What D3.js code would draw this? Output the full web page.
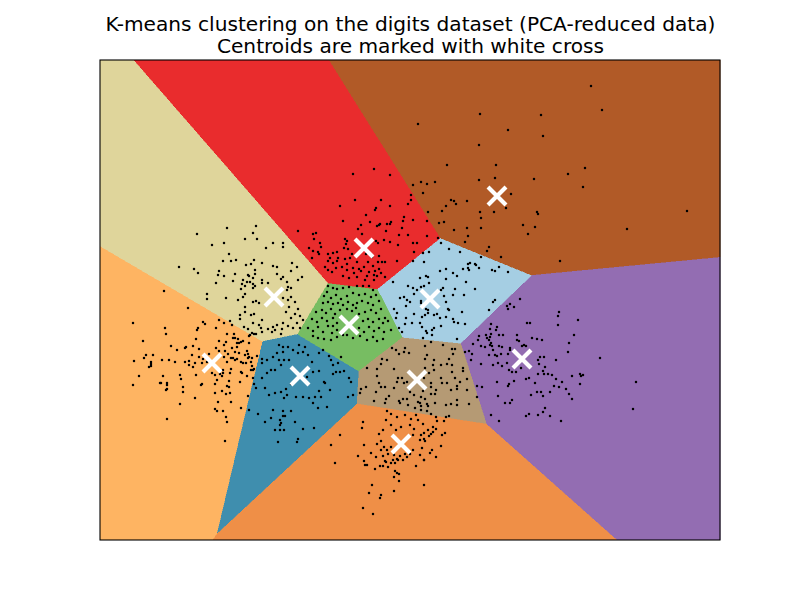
<!DOCTYPE html>
<html>
<head>
<meta charset="utf-8">
<script src="https://cdn.jsdelivr.net/npm/d3@7"></script>
<style>html,body{margin:0;padding:0;background:#fff}svg{display:block}text{font-family:"DejaVu Sans",sans-serif}</style>
</head>
<body>
<svg id="chart" width="800" height="600"></svg>
<script>
const titleLines = ["K-means clustering on the digits dataset (PCA-reduced data)", "Centroids are marked with white cross"];
const xDomain = [-31, 31];
const yDomain = [-24, 24];
const yMetric = 1.265;
const centroidX = [-19.8, -13.6, -11, -6.1, -4.6, 0.7, -0.9, 2, 8.7, 11.2];
const centroidY = [-6.3, 0.3, -7.6, -2.5, 5.2, -8, -14.4, 0.1, 10.4, -5.9];
const cellColors = ["#feb462", "#dfd59b", "#3f8eae", "#77bd62", "#e92c2d", "#b59a74", "#ef8f47", "#a5cee3", "#b15a27", "#936db2"];

const samplesYellow = [[-18.3,7.2],[-15.4,7.4],[-21.3,6.6],[-15.7,6.7],[-16.5,6.1],[-15.3,6.1],[-18.6,5.7],[-19.8,5.5],[-18.1,4.6],[-18.7,3.9],[-17.9,3.9],[-17.4,4],[-15.6,4],[-15.9,3.6],[-16.4,3.5],[-23.1,3.3],[-21.6,3.1],[-21.2,2.7],[-19.1,2.9],[-19.2,2.5],[-18.6,2.4],[-17.5,2.6],[-15.5,3],[-15.5,2.6],[-16.2,2.5],[-16.1,2.4],[-15.7,2.2],[-16.7,2],[-17.7,1.9],[-19.4,1.7],[-16.3,1.8],[-16,1.8],[-16.8,1.6],[-16.5,1.4],[-15.7,1.6],[-15.5,1.4],[-15.7,1.2],[-16.9,1.1],[-20.3,0.6],[-20.3,0.1],[-18.4,0.2],[-17.2,0],[-16.5,0.6],[-16.7,0.3],[-15.7,-0.2],[-15.4,-0.1],[-15.1,-0.3],[-16.5,-0.7],[-16.5,-1.2],[-17,-1.5],[-17,-1.9],[-15.6,-1.4],[-15.9,-1.5],[-15.7,-2.3],[-15.1,-2.5],[-16.6,-2.7],[-16.2,-2.9],[-13.7,5.7],[-12.7,5.7],[-12.7,5.3],[-14.4,5.2],[-14.8,3.7],[-13.7,3.4],[-13.3,3.3],[-11.8,3.7],[-11.3,3.3],[-11.9,2.9],[-10.8,2.3],[-11.2,2],[-13.3,2.6],[-12.7,2.3],[-12.9,2.1],[-12.3,1.8],[-11.9,1.2],[-12.2,1.3],[-12.3,1],[-14.8,2],[-14.8,1.7],[-14.2,1.7],[-12.7,0.2],[-12.2,0],[-11.9,0.3],[-11.5,-0.2],[-11.2,-0.9],[-12.1,-0.7],[-12.4,-1.2],[-11.5,-1.4],[-11,-1.6],[-10.7,-2],[-11.9,-1.8],[-11.3,-2.3],[-12.7,-2.3],[-13.3,-2.5],[-13.7,-2.7],[-14.8,-2],[-14.9,-2.8],[-14.2,-2.9],[-13.5,-3],[-12.8,-2.9],[-12.2,-2.6],[-11.7,-2.8],[-11,-2.8],[-13.8,-3.2],[-14.8,-3.2],[-12.9,-3.4]];

const samplesOrange = [[-24.6,0.9],[-22.2,-0.8],[-27.7,-2.3],[-20.7,-2.2],[-20.5,-2.4],[-19.1,-2],[-18,-2.1],[-18.6,-2.3],[-17.8,-2.5],[-19.4,-2.8],[-24.5,-2.8],[-24.4,-3.4],[-21.2,-2.8],[-21.3,-3],[-18.3,-3.4],[-17.6,-3.4],[-16,-3.5],[-15.8,-3.3],[-15.6,-3.4],[-15.4,-3.4],[-16.1,-3.6],[-17.7,-3.8],[-17.5,-3.8],[-21.4,-3.9],[-19.1,-4.1],[-18.4,-4.2],[-17.2,-3.9],[-16.7,-4.1],[-16.9,-4.2],[-17.3,-4.3],[-17.1,-4.3],[-16.1,-4.3],[-26.7,-4.1],[-23.9,-4.6],[-23.3,-5],[-22.5,-4.8],[-22.4,-4.7],[-21.7,-4.6],[-21.1,-4.9],[-19.4,-4.8],[-18.6,-4.5],[-18.5,-5.1],[-19.1,-5.1],[-17.8,-4.8],[-17.3,-4.7],[-18.2,-5.4],[-17.5,-5.2],[-17.1,-5.3],[-16.5,-5.5],[-16.3,-5.1],[-16.2,-5.4],[-16.1,-5.7],[-16.2,-5.8],[-15.3,-5.6],[-26.4,-5.5],[-26.6,-5.8],[-25.7,-5.5],[-27.6,-6.1],[-24.8,-6],[-24.1,-6],[-23.5,-6.2],[-21.8,-5.5],[-21.1,-5.7],[-22.5,-6.2],[-22.1,-6.1],[-21.5,-6.3],[-20.8,-6.3],[-22.1,-6.5],[-21.7,-6.7],[-20.7,-5.9],[-20.1,-5.4],[-20.3,-6.2],[-18.6,-5.7],[-17.9,-5.8],[-17.7,-5.8],[-17.5,-6],[-17.3,-5.9],[-18.3,-6.2],[-16.9,-6.2],[-16.7,-6.3],[-16.4,-6.3],[-15.8,-5.8],[-15.9,-6.2],[-15.8,-6.6],[-25.9,-6.2],[-25.9,-6.4],[-25.9,-6.6],[-26.1,-6.7],[-17.9,-6.9],[-18.7,-7],[-18.7,-7.3],[-15.9,-7],[-15.7,-7],[-15.6,-6.9],[-16.9,-7.2],[-16.8,-7.3],[-18,-7.3],[-19.8,-7.3],[-19.5,-7.5],[-19,-7.4],[-18.8,-7.6],[-21.4,-7.5],[-23,-7.5],[-22.9,-7.9],[-24.7,-7.6],[-27.1,-7.6],[-16.3,-7.6],[-15.7,-7.8],[-19.3,-8],[-18.1,-8.1],[-17,-8.2],[-25,-8.3],[-24.9,-8.3],[-24.3,-8.3],[-24.3,-8.5],[-27.7,-8.5],[-20.8,-8.4],[-20.9,-8.5],[-19.5,-8.4],[-15.6,-8.4],[-22.7,-8.7],[-18.3,-8.6],[-18.1,-8.7],[-15.4,-8.8],[-24.3,-8.9],[-24.4,-9],[-18.8,-9.1],[-22.7,-9.2],[-19.5,-9.3],[-18.4,-9.4],[-18,-9.3],[-16.2,-9.6],[-21.5,-9.8],[-23,-10.4],[-19.2,-10.2],[-17.9,-10.2],[-16.9,-10.8],[-19.5,-10.9],[-19.3,-11.1],[-18.7,-11.1],[-18.4,-11.7],[-18.3,-12.2],[-24.3,-11.9],[-18.5,-14.1],[-16.1,-11],[-15.2,-11.4]];

const samplesRed = [[-11.2,6.9],[-9.7,6.6],[-9.4,6.7],[-9.6,6.1],[-9,5.7],[-8.9,5.3],[-10.1,5.2],[-9.2,4.8],[-9.7,4.9],[-9.1,4.6],[-9.8,4.2],[-8.2,4.6],[-7.7,4.7],[-7.3,4.8],[-8,4.2],[-7.2,4.2],[-8.2,3.9],[-7.7,3.7],[-7.3,3.9],[-8.5,3.3],[-8.2,3],[-7.8,2.8],[-7.4,3.2],[-6.5,6.1],[-6.3,5.9],[-6.4,5.6],[-6.2,5.1],[-6.6,5.2],[-5.8,4.6],[-6,4.2],[-6.5,4.1],[-6.3,3.6],[-6.8,3.3],[-5.3,3.8],[-5.7,3.2],[-6.3,3],[-5.6,2.7],[-5.1,3.1],[-6.7,2.4],[-6.1,2.2],[-5.3,2.3],[-4.9,7.5],[-4.8,6.6],[-3.3,7.4],[-3.4,5.9],[-3.2,5.7],[-3,7.6],[-2.3,7.6],[-2,7.6],[-2.4,6.9],[-2,5.8],[-2.6,6],[-1.2,5.5],[-0.2,6.5],[-1.1,6.5],[0.3,5.7],[0.4,4.8],[0.7,5.7],[-1.3,3.9],[0.3,3.9],[-4.4,4.6],[-3.8,4.3],[-3.1,4.4],[-4.2,3.8],[-3.7,3.4],[-3.2,3.8],[-2.8,3.8],[-2.5,3.8],[-4.6,3.3],[-4.9,2.9],[-4.1,2.8],[-3.5,2.9],[-3.1,3.1],[-3.6,2.5],[-4.3,2.4],[-3.3,2.4],[-2.9,2.7],[-4.5,2],[-3.6,2],[-2.5,2.3],[-5.7,12.6],[-3.6,13.1],[-2,12.5],[-5.5,10],[-2.9,10],[-2,9.4],[-7,9.4],[-3.5,9],[-3.4,9.2],[-4.4,8.5],[-6.7,7.9],[-4,7.8],[-3.1,7.5],[-1.9,7.8],[-0.7,7.9],[-0.6,8.3],[0.3,8],[-0.2,9.6],[-0.8,7.2],[-5.2,7.1]];

const samplesGreen = [[-8.2,1.4],[-7.7,1.2],[-7.3,1.1],[-6.7,1.2],[-6.1,1.3],[-5.3,1.4],[-4.7,1.4],[-4.1,1.4],[-3.7,1],[-8.6,0.4],[-8.3,0.8],[-7.9,0.2],[-7.4,0.5],[-6.9,0.1],[-6.3,0.4],[-5.7,0.7],[-5.1,0.5],[-4.5,0.6],[-3.9,0.3],[-3.4,0.5],[-8.7,-0.3],[-8.2,-0.2],[-7.7,-0.4],[-7.2,-0.3],[-6.7,-0.5],[-6.2,-0.2],[-5.7,-0.5],[-5.3,-0.3],[-4.8,-0.1],[-4.2,-0.3],[-3.7,-0.5],[-3.1,-0.1],[-2.9,-0.9],[-9.4,-1.2],[-8.8,-1],[-8.4,-1.3],[-7.9,-0.9],[-7.5,-1.4],[-7,-1],[-6.3,-0.9],[-5.8,-1.1],[-5.4,-0.8],[-5.1,-1.4],[-4.5,-1.2],[-3.9,-1],[-3.4,-1.3],[-2.5,-1.8],[-9.8,-1.9],[-9.3,-2.2],[-8.8,-1.8],[-8.3,-2.1],[-7.7,-1.8],[-7.3,-2.3],[-4.7,-2.1],[-4.2,-1.9],[-3.7,-2.2],[-3.1,-1.9],[-2.7,-2.3],[-2.2,-2.1],[-10.2,-2.8],[-9.7,-3.1],[-9.2,-2.7],[-8.7,-3.2],[-8.2,-2.6],[-7.7,-2.6],[-7.8,-3.3],[-7.3,-3],[-6.7,-3.5],[-5.1,-2.8],[-4.6,-3.2],[-4.1,-2.7],[-3.6,-3.1],[-3.1,-2.8],[-2.6,-3.2],[-1.9,-3],[-9.7,-3.6],[-9.2,-3.8],[-8.6,-3.9],[-7.9,-4],[-7.3,-3.7],[-6.3,-3.5],[-5.7,-3.8],[-5,-3.6],[-4.3,-4],[-3.7,-3.7],[-3.3,-4.1],[-2.7,-3.9]];

const samplesBlue = [[-12.7,-4.7],[-13.1,-4.5],[-11.1,-4.5],[-10.5,-4.7],[-10.7,-5.2],[-11.2,-5.3],[-11.7,-5],[-12.2,-4.7],[-12.7,-5.2],[-13.3,-5.3],[-13.7,-5.7],[-14.3,-6],[-14.8,-6.3],[-13.1,-6],[-12.6,-6],[-12.1,-6],[-12.9,-6.5],[-13.5,-7],[-13.9,-7],[-14.3,-7.3],[-14.8,-7.8],[-14.5,-8.8],[-14.1,-9.5],[-13.5,-9.3],[-12.9,-9.2],[-12.4,-8.9],[-12.3,-9.5],[-12.6,-9.8],[-11.9,-8.4],[-11.4,-9.7],[-10.7,-9.7],[-10.1,-9.8],[-9.5,-9.7],[-9.1,-9.1],[-8.9,-9.7],[-8.5,-8.3],[-8,-9],[-7.7,-7.4],[-7.4,-7.2],[-7,-7.2],[-6.6,-7.1],[-6.1,-7.8],[-5.9,-8.2],[-5.7,-9.5],[-6.2,-9.7],[-8.3,-10.7],[-9.2,-10.8],[-9.7,-10.3],[-12.7,-11.1],[-12.7,-11.6],[-13,-12],[-12.5,-11.6],[-12.9,-12.3],[-13,-12.5],[-11.9,-11.1],[-13.7,-11],[-14.5,-12.2],[-13.9,-11.8],[-13.5,-13],[-13,-13],[-12.6,-13],[-11.5,-12.2],[-10.7,-12.9],[-9.6,-12.8],[-11.2,-13.9],[-11.3,-14.2],[-13.2,-14.2],[-10.2,-5.5],[-9.8,-6.2],[-9.1,-5.3],[-8.7,-5],[-8.1,-5.6],[-7.9,-6],[-7.7,-6.5],[-7.2,-6.3],[-6.9,-5.7],[-9.7,-7.2],[-9.1,-7.1],[-8.6,-8.2],[-10.3,-7.7],[-14.8,-5.9]];

const samplesTan = [[-1.4,-5],[-1.8,-4.8],[-1.1,-5.4],[-0.6,-5.2],[-0.5,-4.8],[-0.1,-5.3],[-2.8,-5.9],[-2.3,-6],[-2.9,-6.4],[-1.6,-6.9],[-3.3,-6.9],[-3.3,-7.6],[-4.3,-6.8],[-3.1,-8.3],[-4.4,-8.7],[-4.9,-8.9],[-5,-9.3],[-2.9,-8.7],[-2.5,-8.7],[-3.4,-9.2],[-3.6,-10.1],[-2.4,-9.9],[-1.6,-8.8],[-1.3,-8.2],[-0.8,-7.8],[-0.3,-8.2],[-1.1,-10.1],[-0.7,-9.9],[-0.3,-9.9],[-1,-10.3],[-0.2,-10.5],[-2.1,-9.6],[-2.5,-10.3],[0,-9.2],[0.4,-9.5],[0.8,-10.2],[0.5,-10.8],[-1.2,-7.8],[-0.6,-8.3],[2.1,-4.2],[3.3,-4.5],[1.5,-4.6],[4.2,-4.9],[4.5,-4.9],[4.3,-5.4],[1.7,-5.5],[1.5,-5.9],[2.4,-6],[2.3,-6.5],[3.1,-6.5],[3.9,-5.9],[3.7,-6.4],[4.2,-6.5],[5.3,-6.8],[5.3,-7.1],[4.2,-7.2],[1.5,-6.8],[2.4,-7],[1.9,-7.3],[1.4,-7.8],[3.1,-7.8],[4.5,-7.8],[5.7,-7.9],[5,-8.2],[2.1,-8.3],[3.2,-8.3],[3.7,-8.3],[4.7,-8.6],[4.7,-8.9],[5.7,-9],[4.1,-9],[2.1,-8.7],[2.6,-9],[2.1,-9.4],[2.5,-9.4],[1.3,-9.1],[6.7,-9.7],[5.9,-10.4],[4.7,-10],[4.7,-10.5],[4.1,-10.4],[3.6,-10.5],[1.1,-9.7],[1.5,-9.9],[1,-10.3],[1.1,-10.6],[1.7,-10.4],[2.5,-10.3],[1.8,-10.6],[1.1,-11],[1.7,-11.1],[2.1,-11.4],[3.6,-11.7],[3.9,-11.6]];

const samplesDeepOrange = [[2.6,-11.7],[2.7,-12.1],[3.4,-12.1],[1.3,-12.4],[1.8,-13],[2.3,-12.7],[2.6,-12.9],[2.3,-13.2],[2.1,-13.4],[1.9,-13.6],[1.4,-13.3],[1.1,-13.5],[1.4,-13.9],[1.5,-14.1],[1,-14],[3.5,-13.3],[3.2,-13.5],[3.1,-14.6],[2.2,-15],[2,-15.3],[2.6,-15.7],[1.4,-16],[1.2,-14.8],[1,-15.5],[-4.7,-12.2],[-4.8,-12.8],[-2.3,-11.1],[-1.9,-11.4],[-2.4,-12],[-1.3,-11.7],[-0.5,-11.5],[0.1,-11.9],[0.6,-11.5],[0.8,-12],[-3.1,-13.4],[-2.7,-13],[-1.9,-12.5],[-0.9,-12.7],[-1.4,-13],[0,-12.5],[0.4,-12.9],[0.3,-13.5],[-2.9,-14.1],[-2.6,-14.7],[-3.3,-14.4],[-2.9,-15],[-2.3,-15],[-1.9,-14.7],[-2.2,-15.4],[-2.7,-15.6],[-1.6,-15.5],[-1,-15.6],[-0.5,-15.4],[0.3,-15],[0,-15.4],[-1.3,-15.9],[-0.7,-16],[-0.3,-15.7],[-4.6,-14.5],[-7.9,-14.5],[-7,-13.5],[-7.5,-16.3],[-5.2,-15.6],[-3.9,-15.3],[-3.4,-15.7],[-3.5,-16.9],[-4.6,-16.1],[-4.5,-16.5],[-4.3,-16.5],[-3,-16.6],[-2.7,-16.6],[-2.2,-16.7],[-2.5,-16.1],[-2.4,-16.2],[-1.9,-16.3],[-1.7,-16],[-1.5,-16.3],[-1.2,-16],[-1.5,-17.1],[-1.3,-17.3],[-1.1,-17.4],[-1.6,-17.7],[-1.1,-18.1],[-3.8,-18.5],[-4.1,-19.3],[-2.9,-19.5],[-3,-19.8],[-1.6,-19.1],[-4.7,-20.8],[-3.7,-21.4],[0.6,-16.6],[1.4,-18.5],[1.4,-16]];

const samplesLightBlue = [[-1.7,1.8],[-0.2,1.4],[0.3,1.2],[0.7,1],[-0.6,0.3],[-1,0.2],[-0.3,0],[0.4,0.6],[-1.6,-0.9],[-1.3,-1.3],[-1.4,-1.8],[-0.4,-0.6],[0,-0.2],[0.4,-1.4],[-0.4,-1.8],[0.2,-2.3],[-0.5,-2.4],[-1.1,-2.8],[-0.8,-3.2],[3.1,5.7],[3.9,5.1],[5,4.8],[7.1,4.3],[1.3,4.7],[1.9,4.8],[1.4,3.8],[3,2.9],[3.6,3.1],[4.3,2.7],[4.7,2.4],[3.6,2.1],[5.3,3.1],[5.8,3.6],[6,3.7],[5.8,3.2],[5.9,3],[6.5,3.6],[6.6,3.5],[6.9,3.2],[8.2,3],[8.5,2.9],[8.9,3.3],[9.8,2.8],[5.6,1.8],[6.5,1.1],[4.5,1.1],[5.4,0.5],[4.3,0.5],[3.4,0.4],[3.6,-0.2],[3.8,-0.9],[3.9,-1],[5.2,-1.2],[1.9,1.7],[1.6,2.4],[1.8,2.3],[1,2.2],[1.4,1.4],[1.1,1.3],[3.3,1.2],[3.1,1],[8.3,-0.2],[8.5,0],[7.9,-1],[1.1,-0.1],[1.1,-0.3],[1.6,-0.9],[1.8,-1],[1.8,-1.3],[1.5,-1.5],[1.2,-1.7],[2.4,-1.5],[2.7,-1.4],[3,-1.8],[3.6,-1.7],[4.3,-1.9],[4.4,-2.2],[4.8,-2.3],[5.5,-2.4],[2.4,-2.8],[2.2,-3],[3.1,-2.6],[1,-2.3],[1.2,-2.7],[1.6,-3.1],[1.7,-3.3],[2.2,-3.5],[4.7,-3.9],[1.3,-3.8]];

const samplesBrown = [[18.1,21.4],[19.2,19],[13.1,18.5],[7,18.6],[0.8,17.6],[9.8,17],[13.3,16.4],[6.9,15.5],[3.7,13.5],[8.6,13.5],[17.5,13.2],[15.8,12.6],[8.5,12.2],[6.9,12],[12.4,12.1],[17.3,11.3],[2.5,11.8],[1.1,11.8],[1.7,11.6],[0.3,11.5],[1.3,10.7],[0.1,10.5],[0.1,10],[10.1,10.6],[4.1,10],[4.4,9.9],[4.6,9.6],[5.7,9.9],[3.6,9.4],[3.2,8.9],[1.8,8.8],[7,8.8],[8.4,8.8],[9.6,9.2],[12.7,8.8],[12.8,8.6],[7.1,8.2],[27.7,8.9],[21.7,7.1],[2.9,7.7],[3.4,7.8],[4.4,7],[5.7,7.2],[7.1,7.2],[5.8,6.4],[5.5,5.8],[7.9,5.3],[7.7,4.9],[9.1,4.3],[11.3,7.5],[12.5,7.3],[11.8,6.6],[15,3.9],[1.7,7.9],[1.7,6.4],[2.8,6.2]];

const samplesPurple = [[11,0.1],[10,-0.4],[9.7,-0.6],[9.8,-0.9],[10.4,-0.7],[14.9,-1.2],[14.8,-1.6],[16.8,-2],[11.7,-2.3],[12,-2.3],[14.8,-2.5],[8.1,-2.4],[8.7,-2.7],[8.6,-3],[8,-2.9],[7.6,-3.5],[8.1,-3.4],[8,-3.7],[7.7,-3.8],[8.9,-3.5],[9.3,-3.5],[10.7,-3.5],[6.9,-3.6],[6.8,-4],[6.3,-4.4],[7.9,-4],[8.1,-4.3],[7.1,-4.6],[7.5,-4.7],[8.2,-4.6],[8.9,-4.6],[9.2,-4.7],[10.7,-4],[12.2,-3.8],[12.7,-3.9],[13.2,-4],[11.4,-4.5],[11.2,-4.6],[11.6,-4.6],[15.9,-4.3],[16.4,-3.5],[10,-4.8],[8,-4.5],[8.3,-5],[8.5,-5.5],[8.7,-5.6],[9.1,-5.4],[7.9,-5.5],[5.5,-5.2],[5.9,-5.1],[6.2,-5.4],[6.1,-6],[7.1,-6.4],[8.3,-6.5],[8.8,-6.3],[9.2,-6.6],[9.7,-6.3],[9.9,-7],[10.2,-7.2],[10.6,-7.2],[11.1,-6.8],[8.7,-8.2],[9.9,-8.4],[9.8,-8.6],[10.4,-8.1],[11.6,-7.9],[11.9,-7.8],[12.5,-8.3],[12.8,-7.4],[13.4,-7.4],[13.8,-7.4],[14.2,-7.5],[14.6,-7.9],[15.2,-8.2],[14.4,-8.6],[14.9,-8.7],[15.6,-8.9],[16.2,-7.6],[12.7,-9.2],[13.1,-9.2],[12.1,-9.5],[13.3,-9.6],[14,-9.2],[15.9,-9.4],[16.2,-9.9],[8.8,-9.6],[7.2,-8.7],[6.7,-8.6],[9.5,-10.3],[10,-10.3],[10.2,-10],[8.1,-11.5],[8.9,-12.1],[11.6,-11.6],[11.9,-11.4],[12.8,-11.5],[13.3,-11.2],[13.5,-10.8],[14,-11.6],[15.1,-12.1],[14.6,-6],[15.8,-5.2],[13,-5.7],[13.4,-5.7],[12.8,-6],[12.9,-6.4],[13.5,-6.7],[13.3,-7.1],[10.9,-4.1],[10,-5],[9.8,-5.4],[19,-5.8],[17,-7.4],[17.1,-7.6],[17.3,-7.5],[17,-8.4],[22.6,-8.2],[22.3,-10.9]];

const plotLeft = 100, plotRight = 720, plotTop = 60, plotBottom = 540;
const x = d3.scaleLinear().domain(xDomain).range([plotLeft, plotRight]);
const y = d3.scaleLinear().domain(yDomain).range([plotBottom, plotTop]);
const svg = d3.select("#chart");

const centroids = centroidX.map((v, i) => [x(v), y(centroidY[i])]);
// Regions are nearest-centroid cells; y is stretched by yMetric for the distance calculation.
const voronoi = d3.Delaunay.from(centroids, d => d[0], d => d[1] * yMetric)
  .voronoi([plotLeft, plotTop * yMetric, plotRight, plotBottom * yMetric]);
svg.append("g").attr("transform", `scale(1,${1 / yMetric})`)
  .selectAll("path").data(centroids).join("path")
  .attr("d", (d, i) => voronoi.renderCell(i))
  .attr("fill", (d, i) => cellColors[i])
  .attr("stroke", (d, i) => cellColors[i])
  .attr("stroke-width", 0.5)
  .attr("shape-rendering", "crispEdges");

const samples = [].concat(samplesYellow, samplesOrange, samplesRed, samplesGreen, samplesBlue, samplesTan, samplesDeepOrange, samplesLightBlue, samplesBrown, samplesPurple);
svg.append("g").selectAll("circle").data(samples).join("circle")
  .attr("cx", d => x(d[0])).attr("cy", d => y(d[1])).attr("r", 1.25).attr("fill", "#000");

const armPx = 9;
svg.append("g").selectAll("path").data(centroids).join("path")
  .attr("d", d => `M${d[0]-armPx},${d[1]-armPx}L${d[0]+armPx},${d[1]+armPx}M${d[0]-armPx},${d[1]+armPx}L${d[0]+armPx},${d[1]-armPx}`)
  .attr("stroke", "#fff").attr("stroke-width", 4.17).attr("fill", "none");

svg.append("rect").attr("x", plotLeft).attr("y", plotTop).attr("width", plotRight-plotLeft).attr("height", plotBottom-plotTop)
  .attr("fill", "none").attr("stroke", "#000").attr("stroke-width", 1.1);

svg.append("g").selectAll("text").data(titleLines).join("text")
  .attr("x", 410.5).attr("y", (d, i) => 31 + i*21.5)
  .attr("text-anchor", "middle").attr("font-size", 20.15).attr("fill", "#000").text(d => d);
</script>
</body>
</html>
